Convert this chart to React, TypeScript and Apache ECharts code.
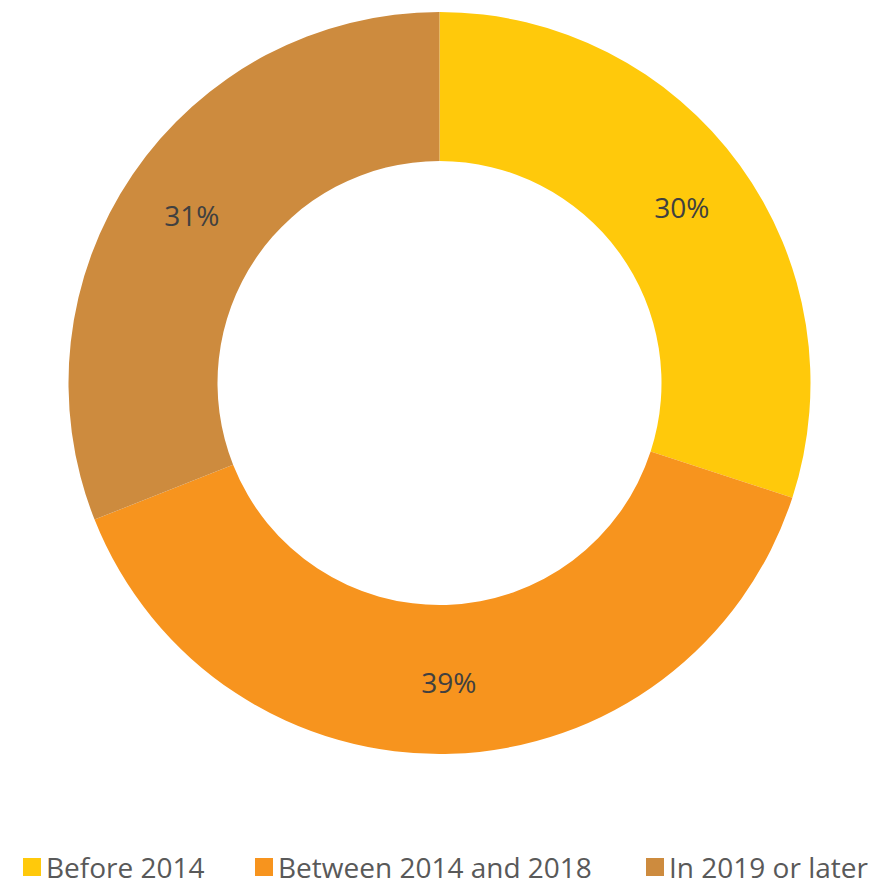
import React, { useEffect, useRef } from "react";
import * as echarts from "echarts";

const categories = ["Before 2014", "Between 2014 and 2018", "In 2019 or later"];
const values = [30, 39, 31];
const colors = ["#FFC90B", "#F7941E", "#CD8B3E"];
const legendLefts = [23, 255, 646];

export default function App() {
  const ref = useRef<HTMLDivElement>(null);
  useEffect(() => {
    if (!ref.current) return;
    const chart = echarts.init(ref.current, null, { renderer: "svg" });
    const font = "'Open Sans', 'Noto Sans', sans-serif";
    chart.setOption({
      animation: false,
      backgroundColor: "#ffffff",
      color: colors,
      legend: categories.map((name, i) => ({
        show: true,
        data: [name],
        left: legendLefts[i],
        top: 853,
        padding: 0,
        orient: "horizontal",
        icon: "rect",
        itemWidth: 18,
        itemHeight: 18,
        selectedMode: false,
        textStyle: {
          fontFamily: font,
          fontSize: 28,
          lineHeight: 28,
          color: "#595959",
        },
      })),
      series: [
        {
          type: "pie",
          center: [439.5, 383],
          radius: [222, 371],
          startAngle: 90,
          clockwise: true,
          avoidLabelOverlap: false,
          label: {
            show: true,
            position: "inside",
            formatter: (p: any) => `${p.value}%`,
            fontFamily: font,
            fontSize: 28,
            color: "#404040",
          },
          labelLine: { show: false },
          emphasis: { disabled: true },
          data: categories.map((name, i) => ({ name, value: values[i] })),
        },
      ],
    });
    return () => chart.dispose();
  }, []);
  return (
    <div
      ref={ref}
      style={{ position: "fixed", left: 0, top: 0, width: 873, height: 881 }}
    />
  );
}
